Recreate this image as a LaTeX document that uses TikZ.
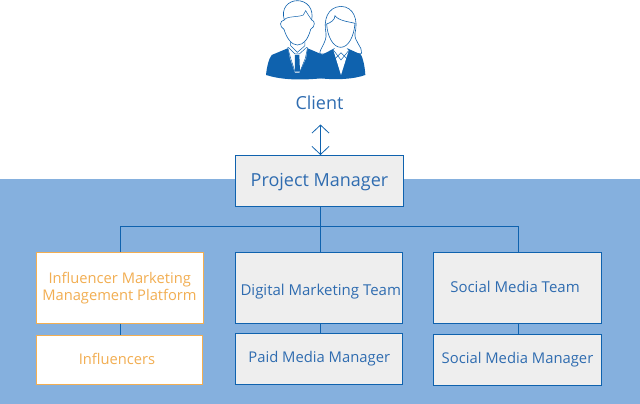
\documentclass[tikz,border=0pt]{standalone}
\usepackage{fontspec}
\setmainfont{Open Sans}
\usetikzlibrary{arrows.meta}
\definecolor{bluedk}{HTML}{0F62AE}
\definecolor{bgblue}{HTML}{85B0DE}
\definecolor{boxgray}{HTML}{EEEEEE}
\definecolor{orng}{HTML}{F2AE52}
\definecolor{txtblue}{HTML}{2F6CB0}
\tikzset{
  bluebox/.style={draw=bluedk,line width=1pt,fill=boxgray,text=txtblue,inner sep=0pt,align=center},
  orangebox/.style={draw=orng,line width=1pt,fill=white,text=orng,inner sep=0pt,align=center},
  conn/.style={draw=bluedk,line width=1pt},
  icon/.style={fill=bluedk,draw=none},
  outl/.style={draw=bluedk,line width=0.6pt,fill=white},
  thinl/.style={draw=bluedk,line width=0.5pt},
}
\newcommand{\mybox}[8]{%
  \node[#1,minimum width=#5pt-#4pt,minimum height=#7pt-#6pt,font=\fontsize{#8}{#8}\selectfont] (#2) at ({(#4+#5)/2},{(#6+#7)/2}) {#3};}
\newcommand{\nudge}[3]{\kern#1pt\raisebox{#2pt}[0.75em][0.25em]{#3}}
\begin{document}
\begin{tikzpicture}[x=1pt,y=-1pt]
\useasboundingbox (0,0) rectangle (640,404);
\fill[bgblue] (0,179) rectangle (640,404);
% icon (coordinates are those of a 3x enlargement)
\begin{scope}[shift={(240,0)},x=0.3333pt,y=-0.3333pt]
  % woman: hair
  \draw[outl] (240,162) .. controls (236,150) and (262,125) .. (258,100) .. controls (250,60) and (262,22) .. (302,19) .. controls (342,20) and (355,60) .. (345,100) .. controls (342,125) and (368,140) .. (365,160) -- cycle;
  % woman: suit
  \fill[icon] (245,165) -- (283,145) -- (322,145) -- (362,163) .. controls (370,175) and (375,205) .. (376,225) .. controls (340,238) and (290,240) .. (240,235) -- cycle;
  \fill[white] (280,150) -- (290,140) -- (316,140) -- (326,152) -- (303,225) -- cycle;
  \draw[thinl] (280,150) -- (303,180) -- (326,152) (283,178) -- (303,158) -- (323,178);
  % woman: face
  \draw[outl] (260,72) .. controls (262,110) and (280,142) .. (302,142) .. controls (325,142) and (342,110) .. (345,70) .. controls (325,65) and (295,62) .. (285,47) .. controls (285,60) and (272,68) .. (260,72) -- cycle;
  % man: suit
  \fill[icon] (143,145) -- (95,165) .. controls (85,178) and (80,205) .. (78,225) .. controls (120,238) and (170,242) .. (245,235) -- (250,165) -- (203,145) -- cycle;
  \fill[white] (143,140) -- (152,130) -- (195,130) -- (203,142) -- (198,175) -- (178,218) -- (165,218) -- (150,175) -- cycle;
  \fill[icon] (165,165) -- (178,165) -- (180,215) -- (165,215) -- cycle;
  \draw[thinl] (143,142) -- (152,175) -- (165,215) (203,142) -- (196,175) -- (180,215);
  \draw[thinl] (145,142) -- (165,162) -- (178,162) -- (200,142);
  \draw[thinl] (152,125) -- (152,137) -- (172,157) -- (195,137) -- (195,125);
  % man: head with hair
  \draw[outl] (133,60) .. controls (118,62) and (118,80) .. (132,88) .. controls (140,115) and (155,135) .. (172,135) .. controls (192,135) and (205,115) .. (212,88) .. controls (226,80) and (226,62) .. (215,60) .. controls (222,25) and (200,2) .. (172,2) .. controls (145,2) and (122,25) .. (133,60) -- cycle;
  \draw[thinl] (133,60) .. controls (138,48) and (175,52) .. (190,45) -- (197,32) -- (205,45) -- (215,60);
\end{scope}
\node[text=txtblue,font=\fontsize{18}{18}\selectfont,inner sep=0pt] (client) at (319.5,103) {Client};
\coordinate (arrowtop) at (320.5,124.5);
\coordinate (hub) at (320.5,226);
\coordinate (hubL) at (120.5,226);
\coordinate (hubR) at (518.5,226);
\mybox{bluebox}{pm}{\nudge{0}{-1}{Project Manager}}{235.5}{403.5}{155.5}{206}{18}
\mybox{orangebox}{imm}{\kern0.5pt Influencer Marketing\\[1.2pt]Management Platform}{36}{203}{252.5}{323}{14.7}
\mybox{orangebox}{inf}{\nudge{-5}{-1}{Influencers}}{36.5}{202.5}{335.5}{384}{14.7}
\mybox{bluebox}{dmt}{\nudge{4}{-4}{Digital Marketing Team}}{235.5}{402}{252.5}{323.5}{15}
\mybox{bluebox}{pmm}{\nudge{1}{0}{Paid Media Manager}}{235.5}{402}{333.5}{384.5}{14.8}
\mybox{bluebox}{smt}{\nudge{-5}{-1}{Social Media Team}}{433.5}{601.5}{252.5}{323.5}{15}
\mybox{bluebox}{smm}{\nudge{0}{0}{Social Media Manager}}{433.5}{601.5}{334}{385}{14.8}
\draw[conn,line width=0.8pt,{Straight Barb[length=8pt,width=17pt,line width=0.8pt]}-{Straight Barb[length=8pt,width=17pt,line width=0.8pt]}] (arrowtop) -- (arrowtop |- pm.north);
\draw[conn] (pm.south -| hub) -- (hub);
\draw[conn] (hubL) -- (hubR);
\draw[conn] (hubL) -- (hubL |- imm.north);
\draw[conn] (hub) -- (hub |- dmt.north);
\draw[conn] (hubR) -- (hubR |- smt.north);
\draw[conn] (hubL |- imm.south) -- (hubL |- inf.north);
\draw[conn] (hub |- dmt.south) -- (hub |- pmm.north);
\draw[conn] (hubR |- smt.south) -- (hubR |- smm.north);
\end{tikzpicture}
\end{document}
